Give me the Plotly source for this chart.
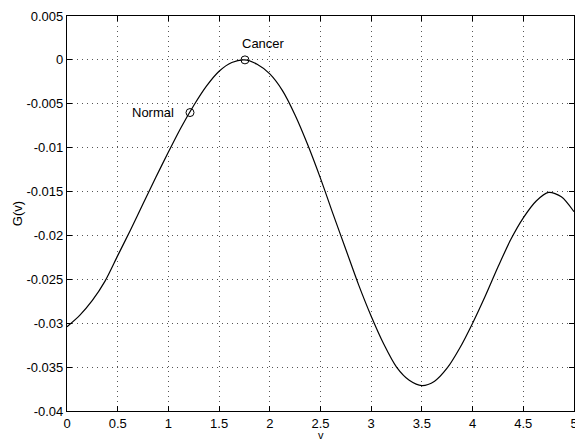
import plotly.graph_objects as go

# G(v) curve samples, every 0.125 in v
v_vals = [0.0, 0.125, 0.25, 0.375, 0.5, 0.625, 0.75, 0.875, 1.0, 1.125,
          1.25, 1.375, 1.5, 1.625, 1.75, 1.875, 2.0, 2.125, 2.25, 2.375,
          2.5, 2.625, 2.75, 2.875, 3.0, 3.125, 3.25, 3.375, 3.5, 3.625,
          3.75, 3.875, 4.0, 4.125, 4.25, 4.375, 4.5, 4.625, 4.75, 4.875, 5.0]
g_vals = [-0.0304, -0.0291, -0.0274, -0.0252, -0.0223, -0.0194, -0.0164,
          -0.0134, -0.0105, -0.0077, -0.0052, -0.0030, -0.0013, -0.0003,
          0.0000, -0.0005, -0.0016, -0.0035, -0.0063, -0.0097, -0.0135,
          -0.0176, -0.0216, -0.0256, -0.0292, -0.0324, -0.0350, -0.0365,
          -0.0371, -0.0366, -0.0351, -0.0328, -0.0300, -0.0269, -0.0236,
          -0.0205, -0.0180, -0.0161, -0.0151, -0.0156, -0.0173]

# labelled points
point_names = ["Normal", "Cancer"]
point_v = [1.213, 1.755]
point_g = [-0.0060, 0.0000]

# axis ticks
x_tickvals = [0, 0.5, 1, 1.5, 2, 2.5, 3, 3.5, 4, 4.5, 5]
x_ticktext = ["0", "0.5", "1", "1.5", "2", "2.5", "3", "3.5", "4", "4.5", "5"]
y_tickvals = [0.005, 0, -0.005, -0.01, -0.015, -0.02, -0.025, -0.03, -0.035, -0.04]
y_ticktext = ["0.005", "0", "-0.005", "-0.01", "-0.015", "-0.02", "-0.025",
              "-0.03", "-0.035", "-0.04"]

FONT = "Liberation Sans, Arial, sans-serif"

fig = go.Figure()
fig.add_trace(go.Scatter(
    x=v_vals, y=g_vals, mode="lines",
    line=dict(color="black", width=1.2, shape="spline", smoothing=0.8),
    showlegend=False, hoverinfo="skip",
))
fig.add_trace(go.Scatter(
    x=point_v, y=point_g, mode="markers",
    marker=dict(symbol="circle-open", size=8, color="black", line=dict(width=1)),
    showlegend=False,
))

# point labels
fig.add_annotation(x=point_v[0], y=point_g[0], text=point_names[0],
                   showarrow=False, xanchor="right", yanchor="middle",
                   xshift=-14, font=dict(family=FONT, size=13, color="black"))
fig.add_annotation(x=point_v[1], y=point_g[1], text=point_names[1],
                   showarrow=False, xanchor="left", yanchor="middle",
                   xshift=-5, yshift=16, font=dict(family=FONT, size=13, color="black"))

# x-axis label, tucked just under the tick labels
fig.add_annotation(x=0.5, y=0, xref="paper", yref="paper", text="v",
                   showarrow=False, xanchor="center", yanchor="top", yshift=-16,
                   font=dict(family=FONT, size=11, color="black"))

axis_common = dict(
    showline=True, linecolor="black", linewidth=1.2, mirror="allticks",
    ticks="inside", ticklen=5, tickcolor="black", tickwidth=1,
    showgrid=True, gridcolor="#555555", gridwidth=1, griddash="1px,4px",
    zeroline=False, tickfont=dict(family=FONT, size=13, color="black"),
    ticklabeloverflow="allow", automargin=False,
)

fig.update_xaxes(range=[0, 5], tickvals=x_tickvals, ticktext=x_ticktext,
                 ticklabelstandoff=0, **axis_common)
fig.update_yaxes(range=[-0.04, 0.005], tickvals=y_tickvals, ticktext=y_ticktext,
                 title=dict(text="G(v)", standoff=0,
                            font=dict(family=FONT, size=13, color="black")),
                 ticklabelstandoff=0, **axis_common)

fig.update_layout(
    width=575, height=440,
    margin=dict(l=67, r=1, t=16, b=29),
    paper_bgcolor="white", plot_bgcolor="white",
)

fig.write_html("out.html")
